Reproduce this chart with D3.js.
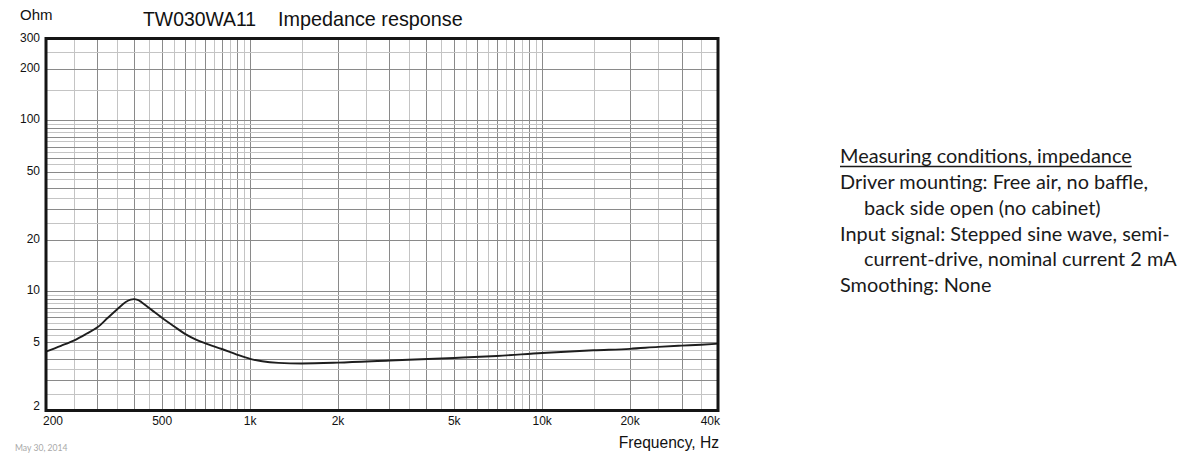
<!DOCTYPE html>
<html><head><meta charset="utf-8">
<script src="https://cdn.jsdelivr.net/npm/d3@7"></script>
<style>
html,body{margin:0;padding:0;background:#fff;}
svg{display:block;}
</style></head>
<body>
<svg id="chart" width="1184" height="459"></svg>
<script>
// ---- data ----
const freqs = [200,225,250,275,300,325,350,375,390,400,412,425,450,475,500,550,600,650,700,800,900,1000,1100,1250,1500,2000,3000,5000,7000,10000,15000,20000,25000,30000,35000,40000];
const impedance = [4.42,4.78,5.15,5.62,6.13,6.95,7.8,8.62,8.9,8.96,8.88,8.6,7.97,7.43,6.95,6.2,5.6,5.22,4.96,4.58,4.25,4.01,3.88,3.80,3.77,3.81,3.92,4.06,4.17,4.34,4.50,4.59,4.71,4.79,4.85,4.92];
const xTickValues = [200,500,1000,2000,5000,10000,20000,40000];
const xTickLabels = ["200","500","1k","2k","5k","10k","20k","40k"];
const yTickValues = [2,5,10,20,50,100,200,300];
const yTickLabels = ["2","5","10","20","50","100","200","300"];
const titleModel = "TW030WA11";
const titleText = "Impedance response";
const yUnit = "Ohm";
const xTitle = "Frequency, Hz";
const dateText = "May 30, 2014";
const notesHeader = "Measuring conditions, impedance";
const notes = [
  {text:"Driver mounting: Free air, no baffle,", indent:false},
  {text:"back side open (no cabinet)", indent:true},
  {text:"Input signal: Stepped sine wave, semi-", indent:false},
  {text:"current-drive, nominal current 2 mA", indent:true},
  {text:"Smoothing: None", indent:false}
];

// ---- layout ----
const L = 46, R = 718, T = 38.5, B = 410.5;
const svg = d3.select("#chart");
const x = d3.scaleLog().domain([200,40000]).range([L,R]);
const y = d3.scaleLog().domain([2,300]).range([B,T]);

// grid values (every half step of each decade)
function gridVals(lo, hi){
  const out = [];
  let dec = Math.pow(10, Math.floor(Math.log10(lo)));
  while (dec < hi){
    for (let m = 1; m < 10; m += 0.5){
      const v = +(m*dec).toPrecision(6);
      if (v > lo && v < hi) out.push({v, major: Number.isInteger(m)});
    }
    dec *= 10;
  }
  return out;
}
const gx = gridVals(200,40000), gy = gridVals(2,300);
const grid = svg.append("g");
grid.selectAll("line.gx").data(gx).join("line")
  .attr("x1", d=>Math.round(x(d.v))+0.5).attr("x2", d=>Math.round(x(d.v))+0.5)
  .attr("y1", T).attr("y2", B)
  .attr("stroke", d=>d.major?"#8a8a8a":"#c4c4c4").attr("stroke-width",1);
grid.selectAll("line.gy").data(gy).join("line")
  .attr("y1", d=>Math.round(y(d.v))+0.5).attr("y2", d=>Math.round(y(d.v))+0.5)
  .attr("x1", L).attr("x2", R)
  .attr("stroke", d=>d.major?"#8a8a8a":"#c4c4c4").attr("stroke-width",1);

// curve
const pts = freqs.map((f,i)=>[f, impedance[i]]);
svg.append("path").datum(pts)
  .attr("d", d3.line().x(d=>x(d[0])).y(d=>y(d[1])).curve(d3.curveMonotoneX))
  .attr("fill","none").attr("stroke","#1e1e1e").attr("stroke-width",1.9);

// frame
svg.append("rect").attr("x",L).attr("y",T).attr("width",R-L).attr("height",B-T)
  .attr("fill","none").attr("stroke","#151515").attr("stroke-width",3);

const axisFont = "'Liberation Sans', Arial, sans-serif";
// y tick labels
svg.append("g").selectAll("text").data(yTickValues).join("text")
  .attr("x", 40).attr("y", (d,i)=> d===2 ? y(d)-5 : y(d)-1)
  .attr("dy","0.35em").attr("text-anchor","end")
  .attr("font-family",axisFont).attr("font-size",12).attr("fill","#111")
  .text((d,i)=>yTickLabels[i]);
// x tick labels
svg.append("g").selectAll("text").data(xTickValues).join("text")
  .attr("x", (d,i)=> i===0 ? L-3 : (i===xTickValues.length-1 ? R+2 : x(d)))
  .attr("y", 424.5)
  .attr("text-anchor",(d,i)=> i===0 ? "start" : (i===xTickValues.length-1 ? "end" : "middle"))
  .attr("font-family",axisFont).attr("font-size",12).attr("fill","#111")
  .text((d,i)=>xTickLabels[i]);

// titles
svg.append("text").attr("x",20).attr("y",19.5).attr("font-family",axisFont).attr("font-size",15).attr("fill","#111").text(yUnit);
svg.append("text").attr("x",143).attr("y",26).attr("font-family",axisFont).attr("font-size",19.4).attr("fill","#111").text(titleModel);
svg.append("text").attr("x",278).attr("y",26).attr("font-family",axisFont).attr("font-size",19.8).attr("fill","#111").text(titleText);
svg.append("text").attr("x",719).attr("y",447.5).attr("text-anchor","end").attr("font-family",axisFont).attr("font-size",15.6).attr("fill","#111").text(xTitle);
svg.append("text").attr("x",15).attr("y",451).attr("font-family","Lato, sans-serif").attr("font-size",8.6).attr("fill","#a8a8a8").text(dateText);

// notes
const noteFont = "Lato, 'Open Sans', sans-serif";
const probe = svg.append("text").attr("font-family",noteFont).attr("font-size",20).text(notes[2].text);
const w20 = probe.node().getComputedTextLength();
probe.remove();
const fs = 20 * 330 / w20;
const notesG = svg.append("g").attr("font-family",noteFont).attr("font-size",fs).attr("fill","#1a1a1a");
const hdr = notesG.append("text").attr("x",840).attr("y",163).text(notesHeader);
const hw = hdr.node().getComputedTextLength();
notesG.append("line").attr("x1",840).attr("x2",840+hw).attr("y1",166.5).attr("y2",166.5).attr("stroke","#1a1a1a").attr("stroke-width",1.3);
notesG.selectAll("text.n").data(notes).join("text").attr("class","n")
  .attr("x", d=> d.indent ? 864 : 840)
  .attr("y", (d,i)=> 189 + i*25.8)
  .text(d=>d.text);
</script>
</body></html>
